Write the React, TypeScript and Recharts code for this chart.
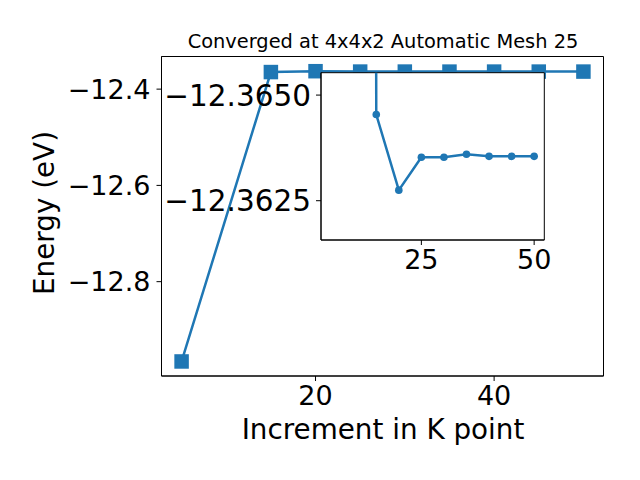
import React from 'react';
import { LineChart, Line, XAxis, YAxis, ReferenceArea } from 'recharts';

// Data
const kPoints = [5, 15, 20, 25, 30, 35, 40, 45, 50];
const energies = [-12.9658, -12.36454, -12.36275, -12.36353, -12.36353, -12.3636, -12.36355, -12.36355, -12.36355];

const mainXTicks = [20, 40];
const mainYTicks = [-12.8, -12.6, -12.4];
const insetXTicks = [25, 50];
const insetYTicks = [-12.365, -12.3625];

const mainXDomain = [2.75, 52.25];
const mainYDomain = [-12.996, -12.3322];
const insetXDomain = [2.75, 52.25];
const insetYDomain = [-12.36553, -12.36157];

const titleText = 'Converged at 4x4x2 Automatic Mesh 25';
const xLabelText = 'Increment in K point';
const yLabelText = 'Energy (eV)';

const data = kPoints.map((k, i) => ({ k, e: energies[i] }));

const BLUE = '#1f77b4';
const FONT = 'DejaVu Sans, sans-serif';

const fmt = (d: number) => (v: number) => (v < 0 ? '\u2212' : '') + Math.abs(v).toFixed(d);

const tickStyle = { fill: '#000', fontSize: 27, fontFamily: FONT };
const insetYTickStyle = { fill: '#000', fontSize: 29.5, fontFamily: FONT };

const SquareDot = (props: any) => {
  const { cx, cy, index } = props;
  if (cx == null || cy == null) return <g key={index} />;
  const s = 14.5;
  return <rect key={index} x={cx - s / 2} y={cy - s / 2} width={s} height={s} fill={BLUE} />;
};

export default function App() {
  return (
    <div style={{ position: 'absolute', left: 0, top: 0, width: 640, height: 480, background: '#fff', fontFamily: FONT }}>
      <svg width={640} height={480} style={{ position: 'absolute', left: 0, top: 0 }}>
        <text x={383} y={48} textAnchor="middle" fontSize={19.4} fontFamily={FONT} fill="#000">{titleText}</text>
        <text x={383} y={439} textAnchor="middle" fontSize={27.8} fontFamily={FONT} fill="#000">{xLabelText}</text>
        <text x={0} y={0} transform="translate(54,213) rotate(-90)" textAnchor="middle" fontSize={27.8} fontFamily={FONT} fill="#000">{yLabelText}</text>
      </svg>
      <div style={{ position: 'absolute', left: 0, top: 0 }}>
        <LineChart width={640} height={480} data={data} margin={{ top: 56.5, right: 36.5, left: 0, bottom: 0 }}>
          <XAxis dataKey="k" type="number" domain={mainXDomain} ticks={mainXTicks} allowDataOverflow
            height={104} tickSize={5} tickMargin={5} tick={tickStyle} stroke="#000" tickLine={{ stroke: '#000' }} axisLine={{ stroke: '#000' }} />
          <YAxis dataKey="e" type="number" domain={mainYDomain} ticks={mainYTicks} allowDataOverflow
            width={161.5} tickSize={5} tickMargin={6} tick={tickStyle} tickFormatter={fmt(1)} stroke="#000" tickLine={{ stroke: '#000' }} axisLine={{ stroke: '#000' }} />
          <ReferenceArea x1={mainXDomain[0]} x2={mainXDomain[1]} y1={mainYDomain[0]} y2={mainYDomain[1]}
            fill="none" fillOpacity={0} stroke="#000" strokeWidth={1} strokeOpacity={1} ifOverflow="visible" />
          <Line dataKey="e" stroke={BLUE} strokeWidth={2.5} dot={SquareDot} isAnimationActive={false} />
        </LineChart>
      </div>
      <div style={{ position: 'absolute', left: 0, top: 0 }}>
        <LineChart width={640} height={480} data={data} margin={{ top: 72.7, right: 95.7, left: 0, bottom: 0 }}>
          <ReferenceArea x1={insetXDomain[0]} x2={insetXDomain[1]} y1={insetYDomain[0]} y2={insetYDomain[1]}
            fill="#fff" fillOpacity={1} stroke="#000" strokeWidth={1} strokeOpacity={1} ifOverflow="visible" />
          <XAxis dataKey="k" type="number" domain={insetXDomain} ticks={insetXTicks} allowDataOverflow
            height={240} tickSize={5} tickMargin={5} tick={tickStyle} stroke="#000" tickLine={{ stroke: '#000' }} axisLine={{ stroke: '#000' }} />
          <YAxis dataKey="e" type="number" domain={insetYDomain} ticks={insetYTicks} allowDataOverflow reversed
            width={321} tickSize={5} tickMargin={5} tick={insetYTickStyle} tickFormatter={fmt(4)} stroke="#000" tickLine={{ stroke: '#000' }} axisLine={{ stroke: '#000' }} />
          <Line dataKey="e" stroke={BLUE} strokeWidth={2.5} dot={{ r: 3.8, fill: BLUE, stroke: BLUE, strokeWidth: 0 }} isAnimationActive={false} />
        </LineChart>
      </div>
    </div>
  );
}
